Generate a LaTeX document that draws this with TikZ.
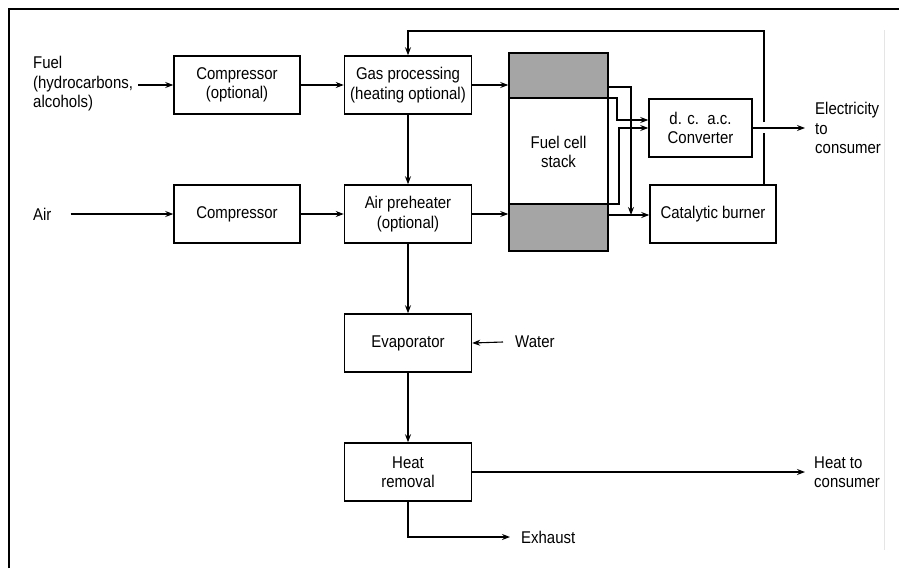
\documentclass[tikz,border=0pt]{standalone}
\usepackage{fontspec}
\setmainfont{Liberation Sans}[FakeStretch=0.88]
\usetikzlibrary{arrows.meta}
\definecolor{stackgray}{RGB}{165,165,165}
\begin{document}
\begin{tikzpicture}[x=1pt,y=-1pt,
  font=\fontsize{17}{19.5}\selectfont,
  box/.style={draw, line width=1.5pt, minimum width=127pt, minimum height=58pt, inner sep=0pt, align=center},
  arr/.style={line width=1.1pt, -{Stealth[length=8pt,width=6pt]}},
  ln/.style={line width=1.1pt},
  lbl/.style={align=left, inner ysep=0pt, anchor=west}]
\useasboundingbox (0,0) rectangle (899,568);
% frame
\draw[line width=2pt] (9,568) -- (9,9) -- (899,9);
\draw[black!10, line width=1pt] (884,30) -- (884,550);

% boxes
\node[box, minimum width=126pt] (comp1) at (237,85) {Compressor\\(optional)};
\node[box] (gas) at (408,85) {Gas processing\\(heating optional)};
\node[box, minimum width=126pt] (comp2) at (237,214) {Compressor};
\node[box] (pre) at (408,214) {Air preheater\\(optional)};
\node[box] (evap) at (408,343) {Evaporator};
\node[box] (heat) at (408,472) {Heat\\removal};
\node[box, minimum width=103pt] (conv) at (700.5,128) {d. c.\ \ a.c.\\Converter};
\node[box, minimum width=126pt] (burn) at (713,214) {Catalytic burner};

% fuel cell stack
\fill[stackgray] (509,53) rectangle (608,98);
\fill[stackgray] (509,204) rectangle (608,251);
\node[draw, line width=1.5pt, minimum width=99pt, minimum height=198pt, inner sep=0pt, align=center] (stack) at (558.5,152) {Fuel cell\\stack};
\draw[line width=1.5pt] (stack.west |- 0,98) -- (stack.east |- 0,98);
\draw[line width=1.5pt] (stack.west |- 0,204) -- (stack.east |- 0,204);

% labels
\node[lbl, inner xsep=0pt] (fuel) at (33,84) {Fuel\\(hydrocarbons,\\alcohols)};
\node[lbl, inner xsep=0pt] (air) at (33,214) {Air};
\node[lbl, inner xsep=12pt] (water) at (503,342) {Water};
\node[lbl, inner xsep=10pt] (elec) at (805,128) {Electricity\\to\\consumer};
\node[lbl, inner xsep=9pt] (htc) at (805,472) {Heat to\\consumer};
\node[lbl, inner xsep=11pt] (exh) at (510,537) {Exhaust};

% connectors
\draw[arr] ([xshift=5pt]fuel.east |- comp1.west) -- (comp1.west);
\draw[arr] ([xshift=19pt]air.east) -- (comp2.west);
\draw[arr] (comp1.east) -- (gas.west);
\draw[arr] (comp2.east) -- (pre.west);
\draw[arr] (gas.south) -- (pre.north);
\draw[arr] (pre.south) -- (evap.north);
\draw[arr] (evap.south) -- (heat.north);
\draw[arr] (water.west) -- (evap.east);
\draw[arr] (heat.east) -- (htc.west);
\draw[arr] (heat.south) |- (exh.west);
\draw[arr] (gas.east) -- (gas.east -| stack.west);
\draw[arr] (pre.east) -- (pre.east -| stack.west);

% stack outlets
\coordinate (s1) at (608,87);
\coordinate (s2) at (608,98);
\coordinate (s3) at (608,204);
\coordinate (s4) at (608,215);
\draw[arr] (s1) -- (631,87) -- (631,215);
\draw[arr] (s2) -- (617,98) -- (617,120) -- (conv.west |- 0,120);
\draw[arr] (s3) -- (619,204) -- (619,128) -- (conv.west |- 0,128);
\draw[arr] (s4) -- (burn.west |- s4);

% electricity
\draw[arr] (conv.east) -- (elec.west);

% feedback from burner to gas processing
\coordinate (fb) at (764,185);
\draw[ln] (fb) -- (764,133);
\draw[arr] (764,122) -- (764,31) -- (gas.north |- 0,31) -- (gas.north);
\end{tikzpicture}
\end{document}
